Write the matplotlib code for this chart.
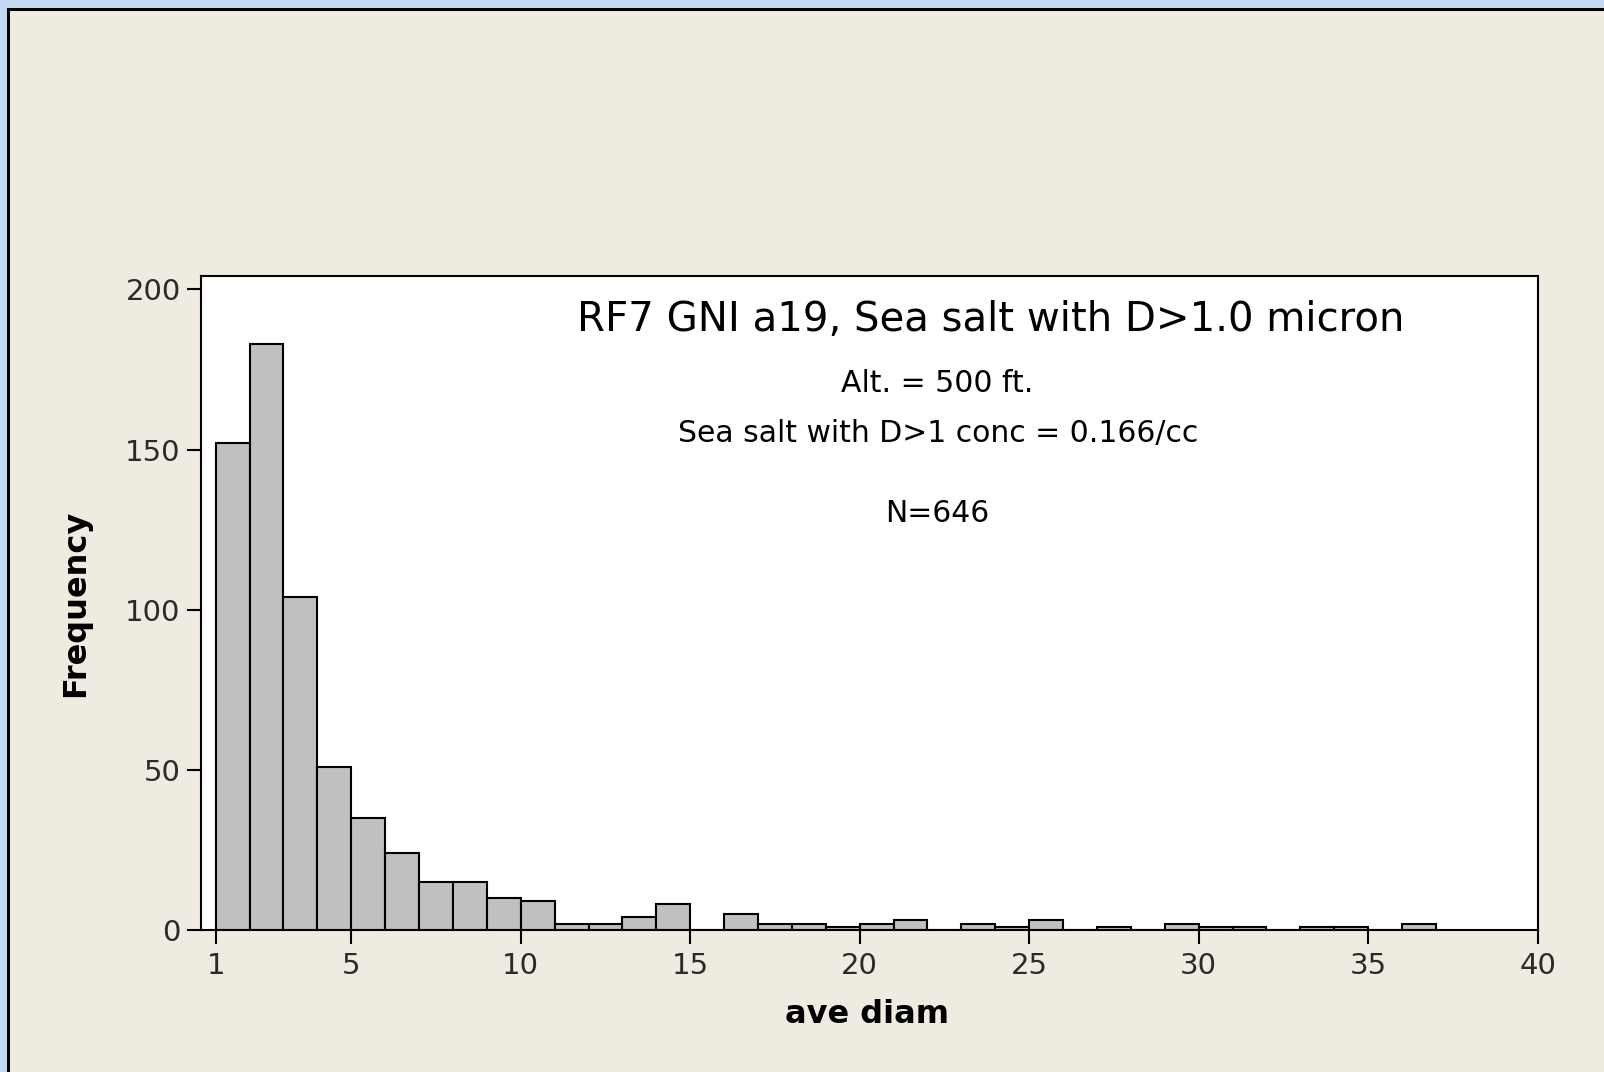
import numpy as np
import matplotlib
matplotlib.use("Agg")
import matplotlib.pyplot as plt
from matplotlib.patches import Rectangle

# histogram of average diameter, bins of width 1 starting at 1
bin_left = np.arange(1, 37)
counts = [152, 183, 104, 51, 35, 24, 15, 15, 10, 9,
          2, 2, 4, 8, 0, 5, 2, 2, 1, 2,
          3, 0, 2, 1, 3, 0, 1, 0, 2, 1,
          1, 0, 1, 1, 0, 2]

x_ticks = [1, 5, 10, 15, 20, 25, 30, 35, 40]
y_ticks = [0, 50, 100, 150, 200]

title = "RF7 GNI a19, Sea salt with D>1.0 micron"
notes = ["Alt. = 500 ft.", "Sea salt with D>1 conc = 0.166/cc", "N=646"]

BG = "#EFEBE1"
BLUE = "#C5D8EF"

fig = plt.figure(figsize=(16.04, 10.72), dpi=100, facecolor=BG)

# window style frame: blue strip at left/top plus dark line
fig.patches.append(Rectangle((0, 0), 7 / 1604, 1, transform=fig.transFigure,
                             facecolor=BLUE, edgecolor="none", zorder=-5))
fig.patches.append(Rectangle((0, 1 - 8 / 1072), 1, 8 / 1072, transform=fig.transFigure,
                             facecolor=BLUE, edgecolor="none", zorder=-5))
fig.patches.append(Rectangle((7 / 1604, 0), 3 / 1604, 1 - 8 / 1072, transform=fig.transFigure,
                             facecolor="black", edgecolor="none", zorder=-4))
fig.patches.append(Rectangle((7 / 1604, 1 - 11 / 1072), 1, 3 / 1072, transform=fig.transFigure,
                             facecolor="black", edgecolor="none", zorder=-4))

ax = fig.add_axes([0.1256, 0.1325, 0.9586 - 0.1256, 0.7425 - 0.1325])
ax.set_facecolor("white")

ax.bar(bin_left, counts, width=1, align="edge", color="#C0C0C0",
       edgecolor="black", linewidth=1.5, zorder=2)

ax.set_xlim(0.58, 40)
ax.set_ylim(0, 204.2)
ax.set_xticks(x_ticks)
ax.set_yticks(y_ticks)
ax.tick_params(axis="both", direction="out", length=10, width=1.5,
               labelsize=21, color="black", labelcolor="#2a2a2a")
ax.tick_params(axis="x", pad=6)
ax.tick_params(axis="y", pad=5)
for s in ax.spines.values():
    s.set_linewidth(1.5)

ax.set_xlabel("ave diam", fontsize=23, fontweight="bold", va="center")
ax.set_ylabel("Frequency", fontsize=23, fontweight="bold", va="center")
ax.xaxis.set_label_coords(0.498, -0.130)
ax.yaxis.set_label_coords(-0.094, 0.5)

ax.text(23.86, 190.5, title, fontsize=29, ha="center", va="center", zorder=3)
ax.text(22.3, 170.5, notes[0], fontsize=21.5, ha="center", va="center", zorder=3)
ax.text(22.3, 154.9, notes[1], fontsize=21.5, ha="center", va="center", zorder=3)
ax.text(22.3, 129.9, notes[2], fontsize=21.5, ha="center", va="center", zorder=3)

fig.savefig("out.png", dpi=100, facecolor=BG)
